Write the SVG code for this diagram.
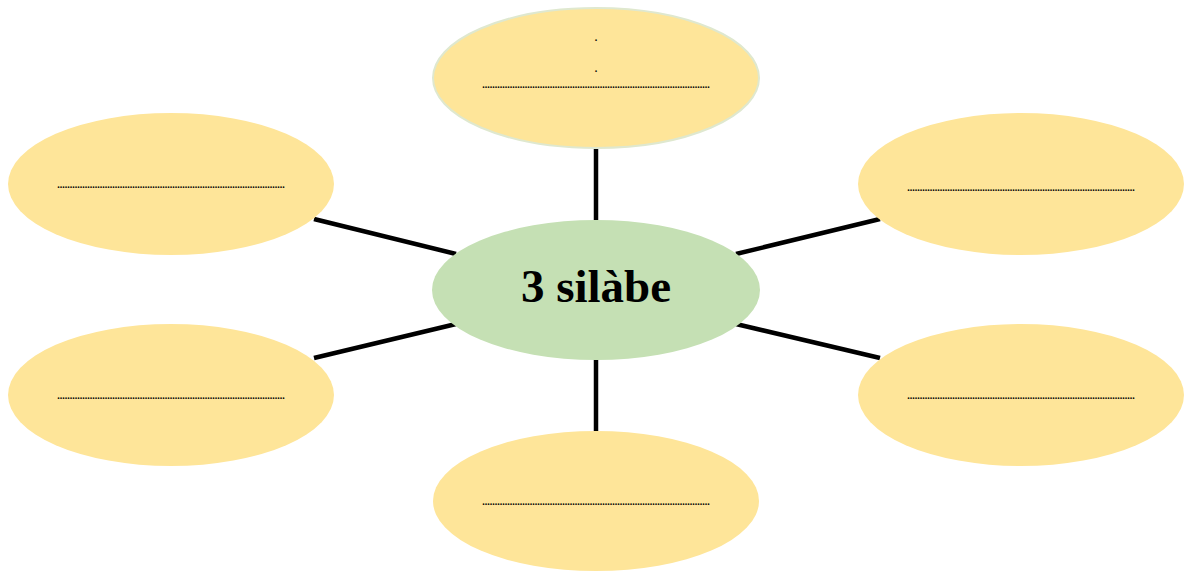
<svg xmlns="http://www.w3.org/2000/svg" width="1185" height="572" viewBox="0 0 1185 572">
<style>
.leaf{fill:#fee599}
.dots{font-family:"Liberation Serif",serif;font-size:10px;font-weight:bold;fill:#000;text-anchor:middle}
.conn{stroke:#000;stroke-width:4.5;fill:none}
</style>
<rect width="1185" height="572" fill="#fff"/>
<g id="connectors">
<line class="conn" x1="596" y1="149" x2="596" y2="220"/>
<line class="conn" x1="596" y1="359" x2="596" y2="431"/>
<line class="conn" x1="314" y1="219" x2="456" y2="254"/>
<line class="conn" x1="314" y1="358" x2="456" y2="324"/>
<line class="conn" x1="736" y1="254" x2="880" y2="219"/>
<line class="conn" x1="736" y1="324" x2="880" y2="358"/>
</g>
<g id="node-top">
<ellipse class="leaf" cx="596" cy="78" rx="163" ry="70" stroke="#dfe8cf" stroke-width="2"/>
<text class="dots" x="596" y="41" font-size="6">.</text>
<text class="dots" x="596" y="72">.</text>
<text class="dots" x="596" y="88">...........................................................................................</text>
</g>
<g id="node-left-top">
<ellipse class="leaf" cx="171" cy="184" rx="163" ry="71"/>
<text class="dots" x="171" y="188">...........................................................................................</text>
</g>
<g id="node-left-bottom">
<ellipse class="leaf" cx="171" cy="395" rx="163" ry="71"/>
<text class="dots" x="171" y="399">...........................................................................................</text>
</g>
<g id="node-right-top">
<ellipse class="leaf" cx="1021" cy="184" rx="163" ry="71"/>
<text class="dots" x="1021" y="191">...........................................................................................</text>
</g>
<g id="node-right-bottom">
<ellipse class="leaf" cx="1021" cy="395" rx="163" ry="71"/>
<text class="dots" x="1021" y="399">...........................................................................................</text>
</g>
<g id="node-bottom">
<ellipse class="leaf" cx="596" cy="501" rx="163" ry="70"/>
<text class="dots" x="596" y="505">...........................................................................................</text>
</g>
<g id="node-center">
<ellipse cx="596" cy="290" rx="164" ry="70" fill="#c5e0b4"/>
<text x="596" y="302" font-family="Liberation Serif,serif" font-weight="bold" font-size="47" text-anchor="middle" fill="#000">3 silàbe</text>
</g>
</svg>
